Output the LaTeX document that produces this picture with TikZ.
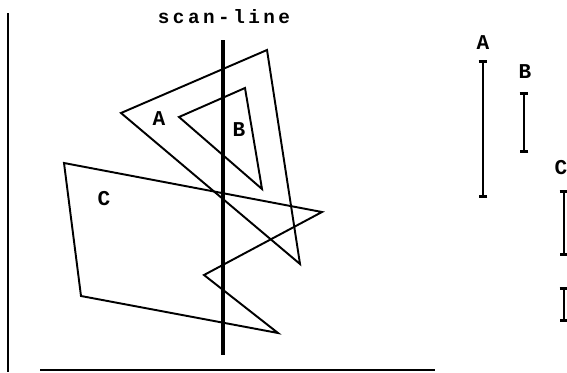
\documentclass[tikz,border=0pt]{standalone}
\usepackage{fontspec}
\setmonofont{Liberation Mono}
\newfontfamily\scanfont[LetterSpace=18]{Liberation Mono}
\usetikzlibrary{arrows.meta}

\tikzset{
  polyline/.style={line width=1.1pt, line join=miter},
  frameline/.style={line width=1.5pt},
  spanline/.style={line width=1.5pt, {Bar[width=5pt]}-{Bar[width=5pt]}},
  polylabel/.style={font=\ttfamily\bfseries\fontsize{12}{12}\selectfont, inner sep=0pt}
}

\begin{document}
\begin{tikzpicture}[x=0.02cm, y=-0.02cm]
  % Frame of the picture
  \useasboundingbox (0,0) rectangle (567,372);

  % Screen border (left and bottom)
  \draw[frameline] (8,13) -- (8,372);
  \draw[frameline] (40,370) -- (435,370);

  % Polygon A (outer triangle)
  \coordinate (a1) at (121,113);
  \coordinate (a2) at (267,50);
  \coordinate (a3) at (300,264);
  \draw[polyline] (a1) -- (a2) -- (a3) -- cycle;

  % Polygon B (inner triangle)
  \coordinate (b1) at (179,117);
  \coordinate (b2) at (245,88);
  \coordinate (b3) at (262,189);
  \draw[polyline] (b1) -- (b2) -- (b3) -- cycle;

  % Polygon C (concave)
  \coordinate (c1) at (64,163);
  \coordinate (c2) at (322,212);
  \coordinate (c3) at (204,275);
  \coordinate (c4) at (278,333);
  \coordinate (c5) at (81,296);
  \draw[polyline] (c1) -- (c2) -- (c3) -- (c4) -- (c5) -- cycle;

  % Scan line
  \coordinate (scanTop) at (223,40);
  \coordinate (scanBot) at (223,355);
  \draw[line width=1.8pt] (scanTop) -- (scanBot);
  \node[font=\scanfont\bfseries\fontsize{11}{11}\selectfont, inner sep=0pt] (scanLabel) at (224,17) {scan-line};

  % Polygon labels
  \node[polylabel] (labA) at (159,119) {A};
  \node[polylabel] (labB) at (239,130) {B};
  \node[polylabel] (labC) at (104,199) {C};

  % Spans on the scan line
  \node[polylabel] (spanLabA) at (483,43) {A};
  \coordinate (spanA1) at (483,60);
  \coordinate (spanA2) at (483,198);
  \draw[spanline] (spanA1) -- (spanA2);

  \node[polylabel] (spanLabB) at (525,72) {B};
  \coordinate (spanB1) at (524,92);
  \coordinate (spanB2) at (524,153);
  \draw[spanline] (spanB1) -- (spanB2);

  \node[polylabel] (spanLabC) at (561,168) {C};
  \coordinate (spanC1) at (564,190);
  \coordinate (spanC2) at (564,256);
  \coordinate (spanC3) at (564,287);
  \coordinate (spanC4) at (564,322);
  \draw[spanline] (spanC1) -- (spanC2);
  \draw[spanline] (spanC3) -- (spanC4);
\end{tikzpicture}
\end{document}
